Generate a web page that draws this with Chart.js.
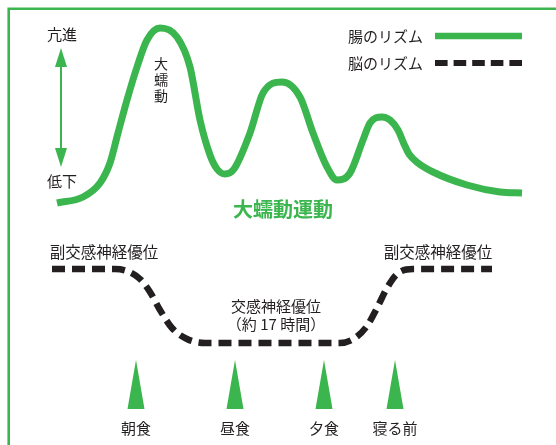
<!DOCTYPE html>
<html><head><meta charset="utf-8">
<script src="https://cdn.jsdelivr.net/npm/chart.js@4"></script>
<style>html,body{margin:0;padding:0;background:#fff}#wrap{width:556px;height:445px;position:relative}</style>
</head><body><div id="wrap"><canvas id="c"></canvas></div>
<script>
// Gut rhythm (腸のリズム): position along the day (x) and activity level (y)
const gutX = [57,83,100,110,118,127,137,147,160,177,190,200,210,217,225,234,250,263,282,300,313,327,337,350,363,370,382,390,398,404,409,418,433,467,500,522];
const gutY = [242,248,262,282,312,345,378,405,417,408,378,325,290,276,271,276,312,352,363,348,312,278,265,272,305,322,328,325,315,301,291,282,273,260,253,252];
// Brain rhythm (脳のリズム)
const brainX = [52,115,127,140,150,160,172,187,205,340,355,367,377,387,397,413,492];
const brainY = [176,176,174,166,153,135,117,106,102,102,107,119,137,157,171,176,176];
// Meals / events
const mealLabels = ['朝食','昼食','夕食','寝る前'];
const mealX = [136,235,324,395];
const legendLabels = ['腸のリズム','脳のリズム'];

const GREEN = '#3bb54e';
const DARK = '#231f20';
const FONT = '"Noto Sans CJK JP", "Noto Sans", sans-serif';

const toPts = (xs, ys) => xs.map((x,i)=>({x, y: ys[i]}));

const deco = {
  id: 'deco',
  afterDatasetsDraw(chart) {
    const ctx = chart.ctx;
    const xs = chart.scales.x;
    ctx.save();
    // frame
    ctx.strokeStyle = GREEN; ctx.lineWidth = 2.6; ctx.lineCap = 'butt';
    ctx.beginPath(); ctx.moveTo(8.7, 445); ctx.lineTo(8.7, 8.7); ctx.lineTo(556, 8.7); ctx.stroke();
    // legend
    ctx.fillStyle = DARK; ctx.font = '15px ' + FONT; ctx.textAlign = 'right'; ctx.textBaseline = 'middle';
    ctx.fillText(legendLabels[0], 423, 36);
    ctx.fillText(legendLabels[1], 423, 63);
    ctx.strokeStyle = GREEN; ctx.lineWidth = 6.5;
    ctx.beginPath(); ctx.moveTo(435, 36); ctx.lineTo(522, 36); ctx.stroke();
    ctx.strokeStyle = DARK; ctx.lineWidth = 6; ctx.setLineDash([12.6,6]);
    ctx.beginPath(); ctx.moveTo(435, 63); ctx.lineTo(522, 63); ctx.stroke();
    ctx.setLineDash([]);
    // axis arrow
    ctx.textAlign = 'center';
    ctx.fillText('亢進', 62, 34);
    ctx.fillText('低下', 62, 181);
    ctx.strokeStyle = GREEN; ctx.fillStyle = GREEN; ctx.lineWidth = 2;
    ctx.beginPath(); ctx.moveTo(61, 62); ctx.lineTo(61, 152); ctx.stroke();
    ctx.beginPath(); ctx.moveTo(61, 48); ctx.lineTo(55, 67); ctx.lineTo(67, 67); ctx.closePath(); ctx.fill();
    ctx.beginPath(); ctx.moveTo(61, 167); ctx.lineTo(55, 148); ctx.lineTo(67, 148); ctx.closePath(); ctx.fill();
    // vertical label
    ctx.fillStyle = DARK; ctx.font = '14px ' + FONT;
    ['大','蠕','動'].forEach((ch,i)=>ctx.fillText(ch, 161, 64 + i*16));
    // title
    ctx.fillStyle = GREEN; ctx.font = 'bold 20px ' + FONT;
    ctx.fillText('大蠕動運動', 283, 209);
    // state labels
    ctx.fillStyle = DARK; ctx.font = '15.5px ' + FONT;
    ctx.fillText('副交感神経優位', 104, 252);
    ctx.fillText('副交感神経優位', 438, 252);
    ctx.font = '15px ' + FONT;
    ctx.fillText('交感神経優位', 276, 306);
    ctx.fillText('（約 17 時間）', 276, 324);
    // meal markers
    mealX.forEach((mx, i) => {
      const px = xs.getPixelForValue(mx);
      ctx.fillStyle = GREEN;
      ctx.beginPath(); ctx.moveTo(px, 360); ctx.lineTo(px - 8.5, 409); ctx.lineTo(px + 8.5, 409); ctx.closePath(); ctx.fill();
      ctx.fillStyle = DARK; ctx.font = '15px ' + FONT;
      ctx.fillText(mealLabels[i], px, 428);
    });
    ctx.restore();
  }
};

new Chart(document.getElementById('c'), {
  type: 'line',
  data: {
    datasets: [
      { label: legendLabels[0], data: toPts(gutX, gutY), borderColor: GREEN, borderWidth: 7, pointRadius: 0, cubicInterpolationMode: 'monotone', borderCapStyle: 'butt', fill: false, clip: false },
      { label: legendLabels[1], data: toPts(brainX, brainY), borderColor: DARK, borderWidth: 6.5, borderDash: [13,7], pointRadius: 0, cubicInterpolationMode: 'monotone', borderCapStyle: 'butt', fill: false, clip: false }
    ]
  },
  options: {
    responsive: true, maintainAspectRatio: false, animation: false,
    layout: { padding: 0 },
    plugins: { legend: { display: false }, tooltip: { enabled: false } },
    scales: {
      x: { type: 'linear', min: 0, max: 556, display: false },
      y: { type: 'linear', min: 0, max: 445, display: false }
    }
  },
  plugins: [deco]
});
</script></body></html>
